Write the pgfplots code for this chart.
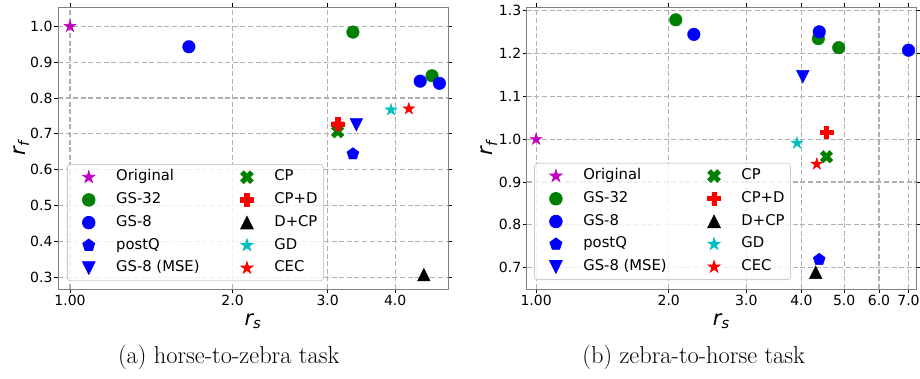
\documentclass[border=0pt]{standalone}
\usepackage{pgfplots}
\pgfplotsset{compat=1.18}
\usepackage{fontspec}
\newfontfamily\dejavu{DejaVu Sans}
\definecolor{mplm}{rgb}{0.75,0,0.75}
\definecolor{mplg}{rgb}{0,0.5,0}
\definecolor{mplc}{rgb}{0,0.75,0.75}

\pgfdeclareplotmark{fstar}{%
  \pgfpathmoveto{\pgfpointpolar{90}{\pgfplotmarksize}}%
  \pgfpathlineto{\pgfpointpolar{126}{0.382\pgfplotmarksize}}%
  \pgfpathlineto{\pgfpointpolar{162}{\pgfplotmarksize}}%
  \pgfpathlineto{\pgfpointpolar{198}{0.382\pgfplotmarksize}}%
  \pgfpathlineto{\pgfpointpolar{234}{\pgfplotmarksize}}%
  \pgfpathlineto{\pgfpointpolar{270}{0.382\pgfplotmarksize}}%
  \pgfpathlineto{\pgfpointpolar{306}{\pgfplotmarksize}}%
  \pgfpathlineto{\pgfpointpolar{342}{0.382\pgfplotmarksize}}%
  \pgfpathlineto{\pgfpointpolar{18}{\pgfplotmarksize}}%
  \pgfpathlineto{\pgfpointpolar{54}{0.382\pgfplotmarksize}}%
  \pgfpathclose\pgfusepathqfillstroke}
\pgfdeclareplotmark{fplus}{%
  \pgfpathmoveto{\pgfqpoint{-0.333\pgfplotmarksize}{-\pgfplotmarksize}}%
  \pgfpathlineto{\pgfqpoint{0.333\pgfplotmarksize}{-\pgfplotmarksize}}%
  \pgfpathlineto{\pgfqpoint{0.333\pgfplotmarksize}{-0.333\pgfplotmarksize}}%
  \pgfpathlineto{\pgfqpoint{\pgfplotmarksize}{-0.333\pgfplotmarksize}}%
  \pgfpathlineto{\pgfqpoint{\pgfplotmarksize}{0.333\pgfplotmarksize}}%
  \pgfpathlineto{\pgfqpoint{0.333\pgfplotmarksize}{0.333\pgfplotmarksize}}%
  \pgfpathlineto{\pgfqpoint{0.333\pgfplotmarksize}{\pgfplotmarksize}}%
  \pgfpathlineto{\pgfqpoint{-0.333\pgfplotmarksize}{\pgfplotmarksize}}%
  \pgfpathlineto{\pgfqpoint{-0.333\pgfplotmarksize}{0.333\pgfplotmarksize}}%
  \pgfpathlineto{\pgfqpoint{-\pgfplotmarksize}{0.333\pgfplotmarksize}}%
  \pgfpathlineto{\pgfqpoint{-\pgfplotmarksize}{-0.333\pgfplotmarksize}}%
  \pgfpathlineto{\pgfqpoint{-0.333\pgfplotmarksize}{-0.333\pgfplotmarksize}}%
  \pgfpathclose\pgfusepathqfillstroke}
\pgfdeclareplotmark{fx}{%
  \pgfpathmoveto{\pgfqpoint{-0.5\pgfplotmarksize}{-\pgfplotmarksize}}%
  \pgfpathlineto{\pgfqpoint{0pt}{-0.5\pgfplotmarksize}}%
  \pgfpathlineto{\pgfqpoint{0.5\pgfplotmarksize}{-\pgfplotmarksize}}%
  \pgfpathlineto{\pgfqpoint{\pgfplotmarksize}{-0.5\pgfplotmarksize}}%
  \pgfpathlineto{\pgfqpoint{0.5\pgfplotmarksize}{0pt}}%
  \pgfpathlineto{\pgfqpoint{\pgfplotmarksize}{0.5\pgfplotmarksize}}%
  \pgfpathlineto{\pgfqpoint{0.5\pgfplotmarksize}{\pgfplotmarksize}}%
  \pgfpathlineto{\pgfqpoint{0pt}{0.5\pgfplotmarksize}}%
  \pgfpathlineto{\pgfqpoint{-0.5\pgfplotmarksize}{\pgfplotmarksize}}%
  \pgfpathlineto{\pgfqpoint{-\pgfplotmarksize}{0.5\pgfplotmarksize}}%
  \pgfpathlineto{\pgfqpoint{-0.5\pgfplotmarksize}{0pt}}%
  \pgfpathlineto{\pgfqpoint{-\pgfplotmarksize}{-0.5\pgfplotmarksize}}%
  \pgfpathclose\pgfusepathqfillstroke}
\pgfdeclareplotmark{tup}{%
  \pgfpathmoveto{\pgfqpoint{0pt}{\pgfplotmarksize}}%
  \pgfpathlineto{\pgfqpoint{-\pgfplotmarksize}{-\pgfplotmarksize}}%
  \pgfpathlineto{\pgfqpoint{\pgfplotmarksize}{-\pgfplotmarksize}}%
  \pgfpathclose\pgfusepathqfillstroke}
\pgfdeclareplotmark{tdown}{%
  \pgfpathmoveto{\pgfqpoint{0pt}{-\pgfplotmarksize}}%
  \pgfpathlineto{\pgfqpoint{-\pgfplotmarksize}{\pgfplotmarksize}}%
  \pgfpathlineto{\pgfqpoint{\pgfplotmarksize}{\pgfplotmarksize}}%
  \pgfpathclose\pgfusepathqfillstroke}

\pgfplotsset{
  myaxis/.style={
    scale only axis, anchor=south west,
    width=390pt, height=282pt,
    grid=major,
    major grid style={dash pattern=on 5pt off 2.6pt, draw=black!31, line width=1.25pt},
    axis line style={draw=black!50, line width=0.9pt},
    tick style={draw=black, line width=0.8pt},
    tick align=outside, major tick length=3.8pt,
    xminorticks=false, yminorticks=false,
    ticklabel style={font=\dejavu\fontsize{14}{16}\selectfont},
    xticklabel style={inner sep=2pt},
    yticklabel style={inner sep=1.5pt},
    legend columns=5, transpose legend, legend cell align=left,
    legend style={draw=black!20, line width=0.8pt, rounded corners=3pt, fill=white, fill opacity=0.8, text opacity=1,
      font=\dejavu\fontsize{14.8}{17}\selectfont, inner sep=4pt,
      nodes={text height=10.5pt, text depth=3pt, inner sep=2pt},
      row sep=5.2pt, column sep=14pt,
      /tikz/every even column/.append style={column sep=28pt}},
    xlabel style={font=\dejavu\fontsize{21}{24}\selectfont\itshape, anchor=base},
    ylabel style={font=\dejavu\fontsize{21}{24}\selectfont\itshape, anchor=base},
  },
  pt/.style={only marks, mark size=6.3pt,
    legend image code/.code={\path (-17pt,0pt) (11pt,0pt); \draw[##1, sharp corners, opacity=1] plot coordinates {(0pt,0pt)};}},
}

\begin{document}
\begin{tikzpicture}
\path[use as bounding box] (0pt,0pt) rectangle (920pt,379pt);

\begin{axis}[xmode=log, myaxis, at={(58pt,90pt)},
  xmin=0.95, xmax=5.01, ymin=0.267, ymax=1.054,
  xtick={1,2,3,4}, xticklabels={1.00,2.0,3.0,4.0},
  ytick={0.3,0.4,0.5,0.6,0.7,0.8,0.9,1.0},
  yticklabels={0.3,0.4,0.5,0.6,0.7,0.8,0.9,1.0},
  xlabel={r\textsubscript{s}}, ylabel={r\textsubscript{f}},
  xlabel style={at={(axis description cs:0.5,-0.128)}},
  ylabel style={at={(axis description cs:-0.0846,0.5)}},
  legend style={at={(0.023,0.443)}, anchor=north west},
]
\addplot[pt, mark=fstar, color=mplm] coordinates {(1.0,1.0)};
\addlegendentry{Original}
\addplot[pt, mark=*, color=mplg] coordinates {(3.34,0.984) (4.68,0.862)};
\addlegendentry{GS-32}
\addplot[pt, mark=*, color=blue] coordinates {(1.66,0.943) (4.45,0.847) (4.83,0.841)};
\addlegendentry{GS-8}
\addplot[pt, mark=pentagon*, color=blue] coordinates {(3.34,0.644)};
\addlegendentry{postQ}
\addplot[pt, mark=tdown, color=blue] coordinates {(3.39,0.725)};
\addlegendentry{GS-8 (MSE)}
\addplot[pt, mark=fx, color=mplg] coordinates {(3.13,0.706)};
\addlegendentry{CP}
\addplot[pt, mark=fplus, color=red] coordinates {(3.13,0.728)};
\addlegendentry{CP+D}
\addplot[pt, mark=tup, color=black] coordinates {(4.52,0.307)};
\addlegendentry{D+CP}
\addplot[pt, mark=fstar, color=mplc] coordinates {(3.93,0.767)};
\addlegendentry{GD}
\addplot[pt, mark=fstar, color=red] coordinates {(4.24,0.770)};
\addlegendentry{CEC}
\end{axis}

\begin{axis}[xmode=log, myaxis, at={(526.7pt,90pt)}, width=389.3pt,
  xmin=0.952, xmax=7.28, ymin=0.650, ymax=1.309,
  xtick={1,2,3,4,5,6,7}, xticklabels={1.00,2.0,3.0,4.0,5.0,6.0,7.0},
  ytick={0.7,0.8,0.9,1.0,1.1,1.2,1.3},
  yticklabels={0.7,0.8,0.9,1.0,1.1,1.2,1.3},
  xlabel={r\textsubscript{s}}, ylabel={r\textsubscript{f}},
  xlabel style={at={(axis description cs:0.5,-0.128)}},
  ylabel style={at={(axis description cs:-0.0866,0.5)}},
  legend style={at={(0.019,0.447)}, anchor=north west},
]
\addplot[pt, mark=fstar, color=mplm] coordinates {(1.0,1.0)};
\addlegendentry{Original}
\addplot[pt, mark=*, color=mplg] coordinates {(2.075,1.279) (4.37,1.235) (4.86,1.214)};
\addlegendentry{GS-32}
\addplot[pt, mark=*, color=blue] coordinates {(2.28,1.245) (4.39,1.251) (7.0,1.208)};
\addlegendentry{GS-8}
\addplot[pt, mark=pentagon*, color=blue] coordinates {(4.39,0.719)};
\addlegendentry{postQ}
\addplot[pt, mark=tdown, color=blue] coordinates {(4.03,1.146)};
\addlegendentry{GS-8 (MSE)}
\addplot[pt, mark=fx, color=mplg] coordinates {(4.56,0.959)};
\addlegendentry{CP}
\addplot[pt, mark=fplus, color=red] coordinates {(4.56,1.016)};
\addlegendentry{CP+D}
\addplot[pt, mark=tup, color=black] coordinates {(4.31,0.689)};
\addlegendentry{D+CP}
\addplot[pt, mark=fstar, color=mplc] coordinates {(3.91,0.991)};
\addlegendentry{GD}
\addplot[pt, mark=fstar, color=red] coordinates {(4.335,0.942)};
\addlegendentry{CEC}
\end{axis}

\node[anchor=base, font=\fontsize{24.4}{28}\selectfont] at (228.7pt,15pt) {(a) horse-to-zebra task};
\node[anchor=base, font=\fontsize{24.4}{28}\selectfont] at (693.7pt,15pt) {(b) zebra-to-horse task};
\end{tikzpicture}
\end{document}
